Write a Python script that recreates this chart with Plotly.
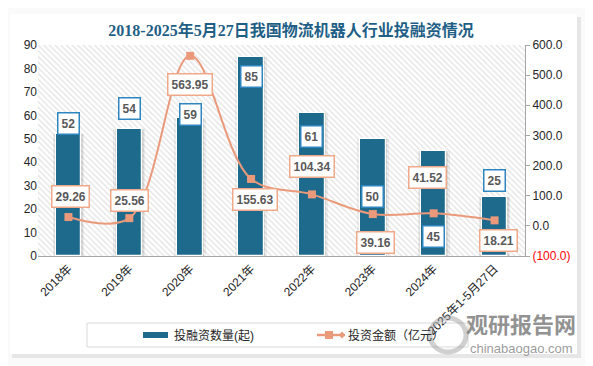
import plotly.graph_objects as go

categories = ["2018年", "2019年", "2020年", "2021年", "2022年", "2023年", "2024年", "2025年1-5月27日"]
deal_counts = [52, 54, 59, 85, 61, 50, 45, 25]
invest_amounts = [29.26, 25.56, 563.95, 155.63, 104.34, 39.16, 41.52, 18.21]
amount_labels = ["29.26", "25.56", "563.95", "155.63", "104.34", "39.16", "41.52", "18.21"]
left_ticks = [0, 10, 20, 30, 40, 50, 60, 70, 80, 90]
right_ticks = [-100, 0, 100, 200, 300, 400, 500, 600]
right_ticktext = ['<span style="color:#FF0000">(100.0)</span>', "0.0", "100.0", "200.0",
                  "300.0", "400.0", "500.0", "600.0"]

# label offsets (pixels) relative to the data point
count_label_shift = [11, 21, 3, -20, -24, -58, -86, 17]
amount_label_shift = [21, 18, -29, -21, 27.5, -28, 36, -20]
amount_label_xshift = [2, 0, 0, 4, 0, 3, -6, 4]

BAR = "#1E6A8D"
LINE = "#EA9A7B"
FONT = "Liberation Sans, Noto Sans CJK SC, sans-serif"

W, H = 593, 366
OFF = 8  # page body margin of the browser
L, R, T, B = 38 - OFF, 525 - OFF, 45 - OFF, 256 - OFF


def px(xp):
    return (xp - OFF - L) / (R - L)


def py(yp):
    return (B - (yp - OFF)) / (B - T)


fig = go.Figure()

# hatched plot background
fig.add_trace(go.Bar(
    x=[0.5], y=[1], width=[1], xaxis="x", yaxis="y",
    marker=dict(color="white", line=dict(width=0),
                pattern=dict(shape="\\", fgcolor="#C4C4C4", bgcolor="white", size=4, solidity=0.3)),
    hoverinfo="skip", showlegend=False,
))

# soft bar shadows
for w, a in [(0.52, 0.06), (0.47, 0.08)]:
    fig.add_trace(go.Bar(
        x=categories, y=deal_counts, xaxis="x2", yaxis="y2", width=w,
        marker=dict(color=f"rgba(0,0,0,{a})", line=dict(width=0)),
        hoverinfo="skip", showlegend=False,
    ))

fig.add_trace(go.Bar(
    x=categories, y=deal_counts, xaxis="x2", yaxis="y2", width=0.42,
    marker=dict(color=BAR, line=dict(color="white", width=1.2)),
    name="投融资数量(起)", showlegend=False,
))

fig.add_trace(go.Scatter(
    x=categories, y=invest_amounts, xaxis="x2", yaxis="y3",
    mode="lines+markers", line=dict(color=LINE, width=2, shape="spline", smoothing=1),
    marker=dict(symbol="square", size=8, color=LINE),
    name="投资金额（亿元）", showlegend=False,
))

annotations = []
for c, v, s in zip(categories, deal_counts, count_label_shift):
    annotations.append(dict(
        x=c, y=v, xref="x2", yref="y2", text=f"<b>{v}</b>", showarrow=False,
        yshift=s, bgcolor="white", bordercolor="#2E86C1", borderwidth=1.5, borderpad=3,
        font=dict(family=FONT, size=12, color="#595959"),
    ))
for c, v, t, s, xs in zip(categories, invest_amounts, amount_labels, amount_label_shift, amount_label_xshift):
    annotations.append(dict(
        x=c, y=v, xref="x2", yref="y3", text=f"<b>{t}</b>", showarrow=False,
        yshift=s, xshift=xs, bgcolor="white", bordercolor="#F0A988", borderwidth=1.5, borderpad=3,
        font=dict(family=FONT, size=12, color="#595959"),
    ))

# legend (manual)
annotations.append(dict(x=px(172), y=py(335), xref="paper", yref="paper", xanchor="left", yanchor="middle",
                        text="投融资数量(起)", showarrow=False,
                        font=dict(family=FONT, size=12, color="#262626")))
annotations.append(dict(x=px(346), y=py(335), xref="paper", yref="paper", xanchor="left", yanchor="middle",
                        text="投资金额（亿元）", showarrow=False,
                        font=dict(family=FONT, size=12, color="#262626")))

# watermark
annotations.append(dict(x=px(521), y=py(340), xref="paper", yref="paper", xanchor="center", yanchor="bottom",
                        text="<b>观研报告网</b>", showarrow=False, borderpad=0,
                        font=dict(family="Noto Sans CJK SC", size=22, color="rgba(110,110,110,0.75)")))
annotations.append(dict(x=px(521), y=py(340), xref="paper", yref="paper", xanchor="center", yanchor="top",
                        text="chinabaogao.com", showarrow=False, borderpad=0,
                        font=dict(family="Liberation Sans", size=13, color="rgba(120,120,120,0.75)")))

shapes = [
    # card shadow and card
    dict(type="rect", xref="paper", yref="paper", x0=px(12), x1=px(581), y0=py(358), y1=py(17),
         fillcolor="#E6E6E6", line=dict(width=0), layer="below"),
    dict(type="rect", xref="paper", yref="paper", x0=px(10), x1=px(577), y0=py(354), y1=py(14),
         fillcolor="white", line=dict(width=0), layer="below"),
    # legend box
    dict(type="rect", xref="paper", yref="paper", x0=px(87), x1=px(468), y0=py(347), y1=py(323),
         fillcolor="rgba(0,0,0,0)", line=dict(color="#D9D9D9", width=1), layer="above"),
    dict(type="rect", xref="paper", yref="paper", x0=px(143), x1=px(168), y0=py(338), y1=py(332),
         fillcolor=BAR, line=dict(width=0), layer="above"),
    dict(type="line", xref="paper", yref="paper", x0=px(317), x1=px(345), y0=py(335), y1=py(335),
         line=dict(color=LINE, width=2.5), layer="above"),
    dict(type="rect", xref="paper", yref="paper", x0=px(325), x1=px(333), y0=py(339), y1=py(331),
         fillcolor=LINE, line=dict(width=0), layer="above"),
    dict(type="path", xref="paper", yref="paper",
         path=f"M {px(339)},{py(335)} L {px(342)},{py(331.5)} L {px(345)},{py(335)} L {px(342)},{py(338.5)} Z",
         fillcolor=LINE, line=dict(width=0), layer="above"),
    # watermark logo ring
    dict(type="circle", xref="paper", yref="paper", x0=px(430), x1=px(466), y0=py(352), y1=py(318),
         fillcolor="rgba(0,0,0,0)", line=dict(color="rgba(150,150,150,0.45)", width=5), layer="above"),
]

fig.update_layout(
    width=W, height=H,
    margin=dict(l=L, r=W - R, t=T, b=H - B, autoexpand=False),
    paper_bgcolor="#FAFAFA", plot_bgcolor="rgba(0,0,0,0)",
    barmode="overlay", bargap=0,
    showlegend=False,
    title=dict(text="<b>2018-2025年5月27日我国物流机器人行业投融资情况</b>",
               x=(291 - OFF) / W, xanchor="center", y=1 - (30 - OFF) / H, yanchor="middle",
               font=dict(family="Liberation Serif, Noto Sans CJK SC", size=16, color="#1F5F86")),
    xaxis=dict(range=[0, 1], visible=False, fixedrange=True),
    yaxis=dict(range=[0, 1], visible=False, fixedrange=True),
    xaxis2=dict(overlaying="x", anchor="y2", type="category", categoryorder="array",
                categoryarray=categories, showline=True, linecolor="#A6A6A6", linewidth=1,
                showgrid=False, ticks="", tickangle=-45, automargin=False,
                tickfont=dict(family=FONT, size=12, color="#262626")),
    yaxis2=dict(overlaying="y", side="left", range=[0, 90], tickvals=left_ticks,
                showgrid=False, zeroline=False, showline=False, ticks="", automargin=False,
                tickfont=dict(family=FONT, size=12, color="#262626")),
    yaxis3=dict(overlaying="y", side="right", anchor="x2", range=[-100, 600], tickvals=right_ticks,
                ticktext=right_ticktext, showgrid=False, zeroline=False, showline=True, automargin=False,
                linecolor="#A6A6A6", linewidth=1, ticks="outside", ticklen=4, tickcolor="#A6A6A6",
                tickfont=dict(family=FONT, size=12, color="#262626")),
    annotations=annotations,
    shapes=shapes,
)

fig.write_html("out.html")
